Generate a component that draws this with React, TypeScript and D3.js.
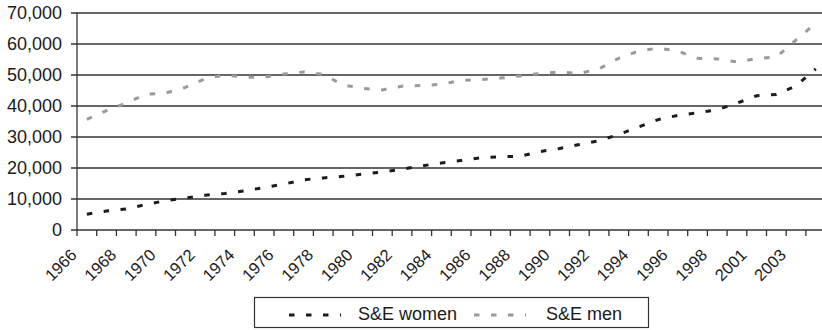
import React from "react";
import * as d3 from "d3";

const years: string[] = [
  "1966", "1967", "1968", "1969", "1970", "1971", "1972", "1973", "1974", "1975",
  "1976", "1977", "1978", "1979", "1980", "1981", "1982", "1983", "1984", "1985",
  "1986", "1987", "1988", "1989", "1990", "1991", "1992", "1993", "1994", "1995",
  "1996", "1997", "1998", "2000", "2001", "2002", "2003", "2004",
];

const women: number[] = [
  5100, 6100, 6800, 8200, 9500, 10300, 11200, 11800, 12600, 13700,
  14800, 16200, 16800, 17300, 18000, 18700, 19600, 20700, 21600, 22400,
  23300, 23600, 23800, 25300, 26300, 27600, 28800, 30800, 33200, 35600,
  37000, 37800, 38800, 40900, 43300, 43700, 46500, 52000,
];

const men: number[] = [
  35700, 38500, 41000, 43800, 44200, 46000, 48800, 50000, 49300, 49300,
  50300, 51000, 50200, 46800, 45700, 45200, 46400, 46600, 47000, 48300,
  48500, 49000, 49700, 50500, 51000, 50500, 52000, 55400, 57700, 58700,
  57700, 55400, 55200, 54200, 55300, 55800, 61300, 66700,
];

const yTicks: number[] = [0, 10000, 20000, 30000, 40000, 50000, 60000, 70000];

const seriesNames: string[] = ["S&E women", "S&E men"];

const W = 822;
const H = 330;
const FONT = "'Liberation Sans', Arial, Helvetica, sans-serif";

export default function App() {
  const left = 77;
  const bandW = 19.7;
  const x = d3
    .scaleBand<string>()
    .domain(years)
    .range([left, left + bandW * years.length])
    .padding(0);
  const y = d3.scaleLinear().domain([0, 70000]).range([230, 13]);
  const bw = x.bandwidth();
  const cx = (i: number) => (x(years[i]) as number) + bw / 2;

  const line = d3
    .line<number>()
    .x((_, i) => cx(i))
    .y((d) => y(d));

  const fmt = d3.format(",");
  const gridColor = "#333";
  const textColor = "#1a1a1a";
  const womenColor = "#1c1c1c";
  const menColor = "#9a9a9a";

  const boundaries = d3.range(years.length + 1).map((i) => left + i * bw);

  return (
    <svg
      width={W}
      height={H}
      style={{ position: "absolute", left: 0, top: 0, background: "#fff" }}
      fontFamily={FONT}
    >
      <rect x={0} y={0} width={W} height={H} fill="#fff" />
      {yTicks.map((t) => (
        <g key={t}>
          <line
            x1={left - 6}
            x2={W}
            y1={y(t)}
            y2={y(t)}
            stroke={gridColor}
            strokeWidth={1.3}
          />
          <text
            x={62}
            y={y(t)}
            dy="0.36em"
            textAnchor="end"
            fontSize={18}
            fill={textColor}
          >
            {fmt(t)}
          </text>
        </g>
      ))}
      <line x1={left} x2={left} y1={y(70000)} y2={y(0)} stroke={gridColor} strokeWidth={1.3} />
      {boundaries.map((bx, i) => (
        <line key={i} x1={bx} x2={bx} y1={y(0)} y2={y(0) + 6} stroke={gridColor} strokeWidth={1.3} />
      ))}
      {years.map((yr, i) =>
        i % 2 === 0 ? (
          <text
            key={yr}
            transform={`translate(${cx(i) - 9},256) rotate(-45)`}
            textAnchor="end"
            fontSize={16.5}
            fill={textColor}
          >
            {yr}
          </text>
        ) : null
      )}
      <path
        d={line(men) || ""}
        fill="none"
        stroke={menColor}
        strokeWidth={3}
        strokeDasharray="5.5,11.5"
      />
      <path
        d={line(women) || ""}
        fill="none"
        stroke={womenColor}
        strokeWidth={3}
        strokeDasharray="5.5,11.5"
      />
      <rect x={254.5} y={297.5} width={394} height={30} fill="#fff" stroke={gridColor} strokeWidth={1.2} />
      <line x1={289} x2={341} y1={315} y2={315} stroke={womenColor} strokeWidth={3} strokeDasharray="5.5,11.5" />
      <text x={358} y={320} fontSize={18} fill={textColor}>
        {seriesNames[0]}
      </text>
      <line x1={474} x2={526} y1={315} y2={315} stroke={menColor} strokeWidth={3} strokeDasharray="5.5,11.5" />
      <text x={546} y={320} fontSize={18} fill={textColor}>
        {seriesNames[1]}
      </text>
    </svg>
  );
}
